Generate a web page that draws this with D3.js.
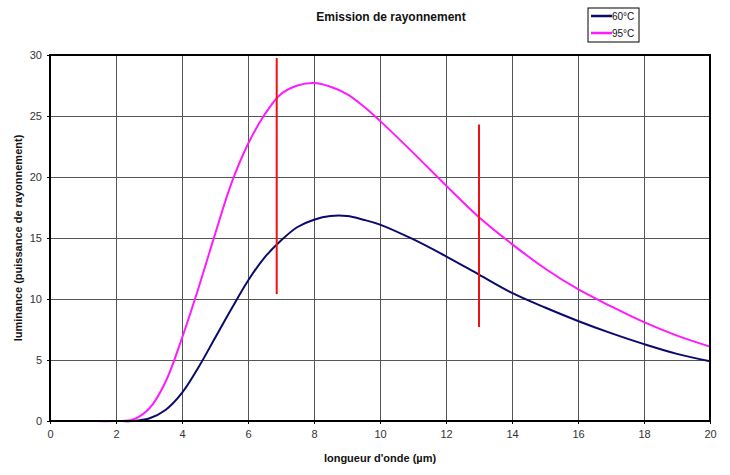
<!DOCTYPE html>
<html><head><meta charset="utf-8">
<script src="https://cdn.jsdelivr.net/npm/d3@7/dist/d3.min.js"></script>
<style>
body{margin:0;background:#fff;}
text{font-family:"Liberation Sans Narrow","Liberation Sans",Arial,sans-serif;}
</style></head>
<body><svg id="c" width="730" height="475"></svg>
<script>
const wavelengths = [0,1,2,2.5,3,3.5,4,4.5,5,5.5,6,6.5,7,7.5,8,8.5,9,9.5,10,11,12,13,14,15,16,17,18,19,20];
const series60 = [0,0,0,0,0.2,0.9,2.3,4.4,6.8,9.2,11.5,13.4,14.8,15.9,16.5,16.8,16.8,16.5,16.1,14.9,13.5,12.0,10.5,9.3,8.2,7.2,6.3,5.5,4.9];
const series95 = [0,0,0,0.1,1.0,3.2,6.8,10.9,15.3,19.5,22.7,25.1,26.8,27.5,27.7,27.4,26.8,25.8,24.6,22.0,19.3,16.7,14.5,12.5,10.8,9.4,8.1,7.0,6.1];
const seriesNames = ["60°C","95°C"];
const seriesColors = ["#0a0a6e","#ff1aff"];
const xTicks = [0,2,4,6,8,10,12,14,16,18,20];
const yTicks = [0,5,10,15,20,25,30];
const markerX = [6.87, 13.0];
const markerYLow = [10.4, 7.7];
const markerYHigh = [29.75, 24.3];

const svg = d3.select("#c");
const L=50, R=710, T=55, B=421;
const x = d3.scaleLinear().domain([0,20]).range([L,R]);
const y = d3.scaleLinear().domain([0,30]).range([B,T]);

// grid
const g = svg.append("g");
g.selectAll(".gx").data(xTicks).enter().append("line")
  .attr("x1",d=>x(d)).attr("x2",d=>x(d)).attr("y1",T).attr("y2",B)
  .attr("stroke","#555").attr("stroke-width",1).attr("shape-rendering","crispEdges");
g.selectAll(".gy").data(yTicks).enter().append("line")
  .attr("x1",L).attr("x2",R).attr("y1",d=>y(d)).attr("y2",d=>y(d))
  .attr("stroke","#555").attr("stroke-width",1).attr("shape-rendering","crispEdges");

// axes
const xAxis = d3.axisBottom(x).tickValues(xTicks).tickSize(3).tickPadding(6);
const yAxis = d3.axisLeft(y).tickValues(yTicks).tickSize(3).tickPadding(5);
const gx = svg.append("g").attr("transform",`translate(0,${B})`).call(xAxis);
const gy = svg.append("g").attr("transform",`translate(${L},0)`).call(yAxis);
[gx,gy].forEach(a=>{
  a.select(".domain").remove();
  a.selectAll("text").attr("font-size","11px").attr("fill","#333")
    .attr("font-family",'"Liberation Sans Narrow","Liberation Sans",Arial,sans-serif');
  a.selectAll("line").attr("stroke","#000");
});

// lines
const line = d3.line().x((d,i)=>x(wavelengths[i])).y(d=>y(d)).curve(d3.curveCatmullRom.alpha(0.5));
[series60, series95].forEach((s,k)=>{
  svg.append("path").datum(s).attr("d",line).attr("fill","none")
    .attr("stroke",seriesColors[k]).attr("stroke-width",2);
});

// markers
markerX.forEach((m,i)=>{
  svg.append("line").attr("x1",x(m)).attr("x2",x(m))
    .attr("y1",y(markerYLow[i])).attr("y2",y(markerYHigh[i]))
    .attr("stroke","#ee1111").attr("stroke-width",2);
});

// frame
svg.append("rect").attr("x",L).attr("y",T).attr("width",R-L).attr("height",B-T)
  .attr("fill","none").attr("stroke","#000").attr("stroke-width",2);

// title
svg.append("text").attr("x",391).attr("y",21).attr("text-anchor","middle")
  .attr("font-size","12px").attr("font-weight","bold").attr("fill","#111")
  .attr("font-family","Liberation Sans, Arial, sans-serif")
  .text("Emission de rayonnement");

// axis titles
svg.append("text").attr("x",380).attr("y",462).attr("text-anchor","middle")
  .attr("font-size","11px").attr("font-weight","bold").attr("fill","#111")
  .text("longueur d'onde (µm)");
svg.append("text").attr("transform",`translate(22,${(T+B)/2}) rotate(-90)`)
  .attr("text-anchor","middle").attr("font-size","11px").attr("font-weight","bold").attr("fill","#111")
  .text("luminance (puissance de rayonnement)");

// legend
const lg = svg.append("g");
lg.append("rect").attr("x",588).attr("y",8).attr("width",51).attr("height",34)
  .attr("fill","#fff").attr("stroke","#000").attr("stroke-width",1);
seriesNames.forEach((n,i)=>{
  const yy = 16 + i*17;
  lg.append("line").attr("x1",591).attr("x2",612).attr("y1",yy).attr("y2",yy)
    .attr("stroke",seriesColors[i]).attr("stroke-width",2.5);
  lg.append("text").attr("x",612).attr("y",yy+4).attr("font-size","10px").attr("fill","#111").text(n);
});
</script></body></html>
